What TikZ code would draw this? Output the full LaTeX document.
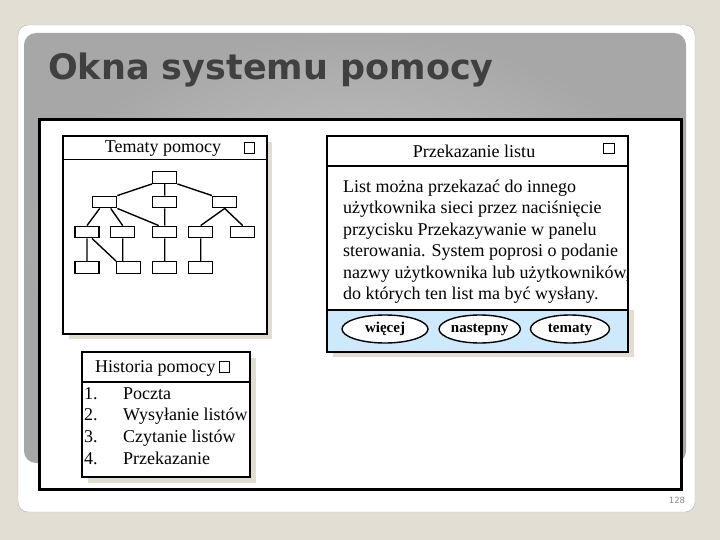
\documentclass[tikz,border=0pt]{standalone}
\usepackage{fontspec}
\setmainfont{Liberation Serif}
\newfontfamily\headfont{DejaVu Sans}
\usetikzlibrary{shapes.geometric}
\definecolor{pagebg}{HTML}{E3DED4}
\definecolor{panelgray}{HTML}{A7A7A7}
\definecolor{panellight}{HTML}{CACACA}
\definecolor{titlegray}{HTML}{404040}
\definecolor{shadowbg}{HTML}{E2DDD3}
\definecolor{buttonblue}{HTML}{CDE9FB}
\definecolor{numgray}{HTML}{8C8C8C}

\begin{document}
\begin{tikzpicture}[x=1pt,y=-1pt,
    win/.style={draw,line width=1.5pt},
    tbox/.style={draw,line width=1.4pt,minimum width=24pt,minimum height=11.5pt,inner sep=0pt},
    chk/.style={draw,line width=1.1pt,minimum size=10.5pt,inner sep=0pt},
    conn/.style={line width=1.4pt},
    lbl/.style={font=\fontsize{18}{21}\selectfont,inner sep=0pt},
    btn/.style={ellipse,draw,line width=1.4pt,fill=white,minimum height=28pt,inner sep=0pt,
      text height=10pt,text depth=3pt,font=\bfseries\fontsize{15}{17}\selectfont}]
  % slide
  \fill[pagebg] (0,0) rectangle (720,540);
  \draw[gray!60,fill=white,rounded corners=10pt] (18,25) rectangle (695,512);
  \shade[inner color=panellight,outer color=panelgray,rounded corners=12pt] (24,33) rectangle (686,463);
  \node[anchor=base west,inner sep=0pt,text=titlegray,font=\headfont\bfseries\fontsize{35}{40}\selectfont]
    (title) at (48,80) {Okna systemu pomocy};
  \draw[line width=3pt,fill=white] (39.5,119.5) rectangle (681.5,489.5);

  % Tematy pomocy
  \fill[shadowbg] (69,142) rectangle (272,339);
  \draw[win,fill=white] (63,136) rectangle (267,334);
  \draw[win] (63,159.5) -- (267,159.5);
  \node[lbl,anchor=base] (tematy) at (163,153) {Tematy pomocy};
  \node[chk] (tematyx) at (249.5,148) {};
  \node[tbox] (r) at (164.7,177.5) {};
  \foreach \n/\x in {a/104.7,b/164.7,c/224.7}
    \node[tbox] (l2\n) at (\x,202) {};
  \foreach \n/\x in {a/87,b/122.7,c/164.7,d/200.7,e/242.7}
    \node[tbox] (l3\n) at (\x,232) {};
  \foreach \n/\x in {a/87,b/128.7,c/164.7,d/200.7}
    \node[tbox] (l4\n) at (\x,267.5) {};
  \draw[conn] (r.south west) -- (l2a.north east) (r) -- (l2b) (r.south east) -- (l2c.north west);
  \draw[conn] ([xshift=-5pt]l2a.south) -- (l3a.north) ([xshift=6pt]l2a.south) -- (l3b.north)
    (l2a.south east) -- ([xshift=-6pt]l3c.north) (l2b) -- (l3c)
    (l2c.south) -- (l3d.north) (l2c.south) -- (l3e.north);
  \draw[conn] (l3a) -- (l4a) ([xshift=5pt]l3a.south) -- (l4b.north west)
    (l3b.south) -- (l3b.south |- l4b.north) (l3c) -- (l4c) (l3d) -- (l4d);

  % Przekazanie listu
  \fill[shadowbg] (333,310) rectangle (634,357);
  \fill[white] (327,136) rectangle (628,310);
  \fill[buttonblue] (327,310) rectangle (628,352);
  \draw[win] (327,136) rectangle (628,352) (327,166) -- (628,166) (327,310) -- (628,310);
  \node[lbl,anchor=base] (przek) at (474,158) {Przekazanie listu};
  \node[chk] (przekx) at (609,148.5) {};
  \foreach \t [count=\i] in {List można przekazać do innego,
      użytkownika sieci przez naciśnięcie,
      przycisku Przekazywanie w panelu,
      sterowania. System poprosi o podanie,
      {nazwy użytkownika lub użytkowników,},
      do których ten list ma być wysłany.}
    \node[lbl,anchor=base west] (body\i) at (343,{192.3+21.5*(\i-1)}) {\t};
  \node[btn,minimum width=86pt] (wiecej) at (385,329) {więcej};
  \node[btn,minimum width=79pt] (nastepny) at (479.7,329) {nastepny};
  \node[btn,minimum width=79pt] (tematybtn) at (570,329) {tematy};

  % Historia pomocy
  \fill[shadowbg] (88,358) rectangle (256,483);
  \draw[win,fill=white] (82,352) rectangle (250,477);
  \draw[win] (82,382) -- (250,382);
  \node[lbl,anchor=base west] (historia) at (95,372) {Historia pomocy};
  \node[chk] (historiax) at (224.5,367) {};
  \foreach \t [count=\i] in {Poczta,Wysyłanie listów,Czytanie listów,Przekazanie} {
    \node[lbl,anchor=base west] (nr\i) at (84,{399+21.7*(\i-1)}) {\i.};
    \node[lbl,anchor=base west] (item\i) at (123,{399+21.7*(\i-1)}) {\t};
  }

  \node[text=numgray,font=\headfont\fontsize{8.5}{10}\selectfont] (page) at (677,500) {128};
\end{tikzpicture}
\end{document}
